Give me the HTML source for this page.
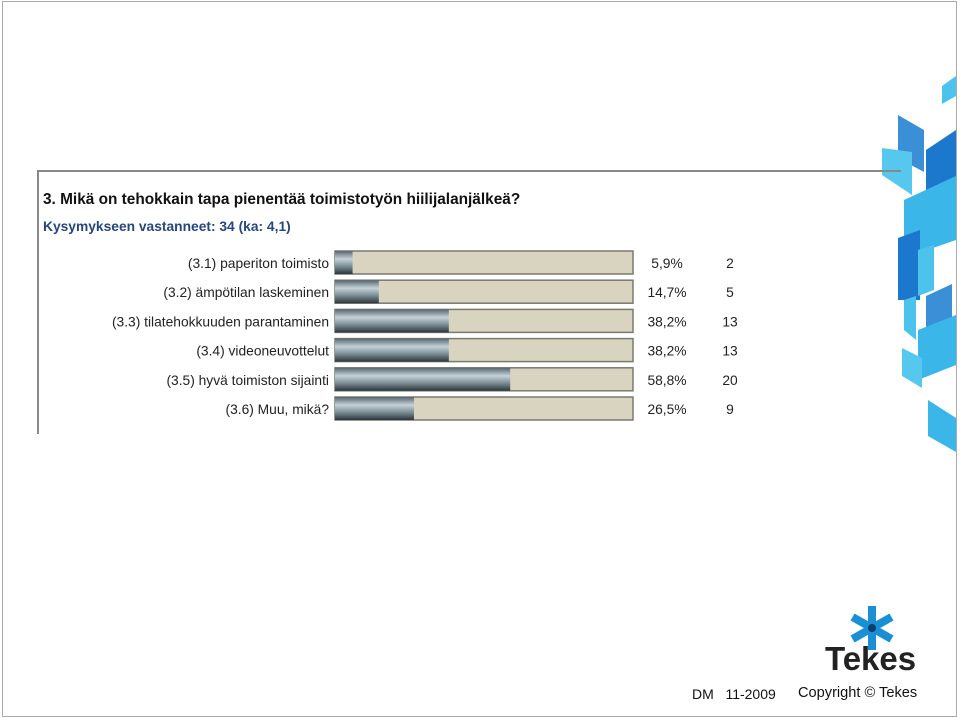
<!DOCTYPE html>
<html><head><meta charset="utf-8"><style>
body{margin:0;background:#fff;}
#page{position:relative;width:960px;height:718px;overflow:hidden;font-family:"Liberation Sans",Arial,sans-serif;}
.t{position:absolute;white-space:nowrap;}
</style></head><body>
<div id="page">
<div style="position:absolute;left:2px;top:1px;width:953px;height:714px;border:1px solid #aaa;"></div>
<svg width="960" height="718" style="position:absolute;left:0;top:0">
 <polygon points="942,86 956,76 956,96 942,104" fill="#4cc3ec"/>
 <polygon points="898,115 924,130 924,172 898,158" fill="#3a8fd6"/>
 <polygon points="882,148 912,152 912,195 882,175" fill="#56c8ee"/>
 <polygon points="926,150 956,130 956,185 926,205" fill="#1b78cc"/>
 <polygon points="904,200 956,176 956,240 904,258" fill="#3bb6e8"/>
 <polygon points="898,238 920,230 920,300 898,300" fill="#1b78cc"/>
 <polygon points="918,250 934,245 934,290 918,296" fill="#4cc3ec"/>
 <polygon points="926,296 952,284 952,330 926,345" fill="#3a8fd6"/>
 <polygon points="904,300 916,296 916,340 904,330" fill="#4cc3ec"/>
 <polygon points="918,330 956,315 956,365 918,380" fill="#3bb6e8"/>
 <polygon points="902,348 922,358 922,388 902,376" fill="#56c8ee"/>
 <polygon points="928,400 956,418 956,452 928,436" fill="#3bb6e8"/>
</svg>
<div style="position:absolute;left:37px;top:170px;width:862px;height:262px;border-left:2px solid #888;border-top:2px solid #888;"></div>
<div class="t" style="left:43px;top:191px;font-size:15.4px;font-weight:bold;color:#111;">3. Mikä on tehokkain tapa pienentää toimistotyön hiilijalanjälkeä?</div>
<div class="t" style="left:43px;top:219px;font-size:13.8px;font-weight:bold;color:#27467a;">Kysymykseen vastanneet: 34 (ka: 4,1)</div>
<svg id="chart" width="960" height="718" style="position:absolute;left:0;top:0">
 <defs>
  <linearGradient id="fillg" x1="0" y1="0" x2="0" y2="1">
   <stop offset="0" stop-color="#56656e"/><stop offset="0.35" stop-color="#c5d2d8"/><stop offset="0.65" stop-color="#7f9098"/><stop offset="1" stop-color="#2b363c"/>
  </linearGradient>
 </defs>
</svg>
<svg width="50" height="44" style="position:absolute;left:848px;top:606px">
 <g stroke="#1a8fd6" stroke-width="8" stroke-linecap="square">
  <line x1="24" y1="4" x2="24" y2="40"/><line x1="8" y1="13" x2="40" y2="31"/><line x1="40" y1="13" x2="8" y2="31"/>
 </g>
 <circle cx="24" cy="22" r="4" fill="#0c3f6e"/>
</svg>
<div class="t" style="left:825px;top:640px;font-size:33px;font-weight:bold;color:#222;letter-spacing:0px;">Tekes</div>
<div class="t" style="left:692px;top:686px;font-size:14px;color:#111;">DM&nbsp;&nbsp; 11-2009</div>
<div class="t" style="left:798px;top:685px;font-size:14.6px;color:#111;">Copyright © Tekes</div>
</div>
<script>
const categories=["(3.1) paperiton toimisto","(3.2) ämpötilan laskeminen","(3.3) tilatehokkuuden parantaminen","(3.4) videoneuvottelut","(3.5) hyvä toimiston sijainti","(3.6) Muu, mikä?"];
const percents=[5.9,14.7,38.2,38.2,58.8,26.5];
const percentLabels=["5,9%","14,7%","38,2%","38,2%","58,8%","26,5%"];
const counts=[2,5,13,13,20,9];
const svg=document.getElementById('chart');
const NS="http://www.w3.org/2000/svg";
const x0=335,trackW=298,y0=251,pitch=29.2,bh=23;
const xScale=v=>v/100*trackW;
const yPos=i=>y0+i*pitch;
function mk(tag,attrs){const e=document.createElementNS(NS,tag);for(const k in attrs)e.setAttribute(k,attrs[k]);svg.appendChild(e);return e;}
categories.forEach((c,i)=>{
 const y=yPos(i);
 const tr=mk('rect',{x:x0,y:y,width:trackW,height:bh,fill:'#d9d4bf',stroke:'#7a7a72','stroke-width':1.5});
 
 
 const b=mk('rect',{x:x0,y:y,width:xScale(percents[i]),height:bh,fill:'url(#fillg)'});
 
 
 const l=mk('text',{x:329,y:y+17,'text-anchor':'end','font-size':13.8,fill:'#222','font-family':'Liberation Sans, Arial, sans-serif'});
 l.textContent=c;
 
 
 const p=mk('text',{x:667,y:y+17,'text-anchor':'middle','font-size':13.8,fill:'#222','font-family':'Liberation Sans, Arial, sans-serif'});
 p.textContent=percentLabels[i];
 
 
 const n=mk('text',{x:730,y:y+17,'text-anchor':'middle','font-size':13.8,fill:'#222','font-family':'Liberation Sans, Arial, sans-serif'});
 n.textContent=counts[i];
 
 
});
</script>
</body></html>
